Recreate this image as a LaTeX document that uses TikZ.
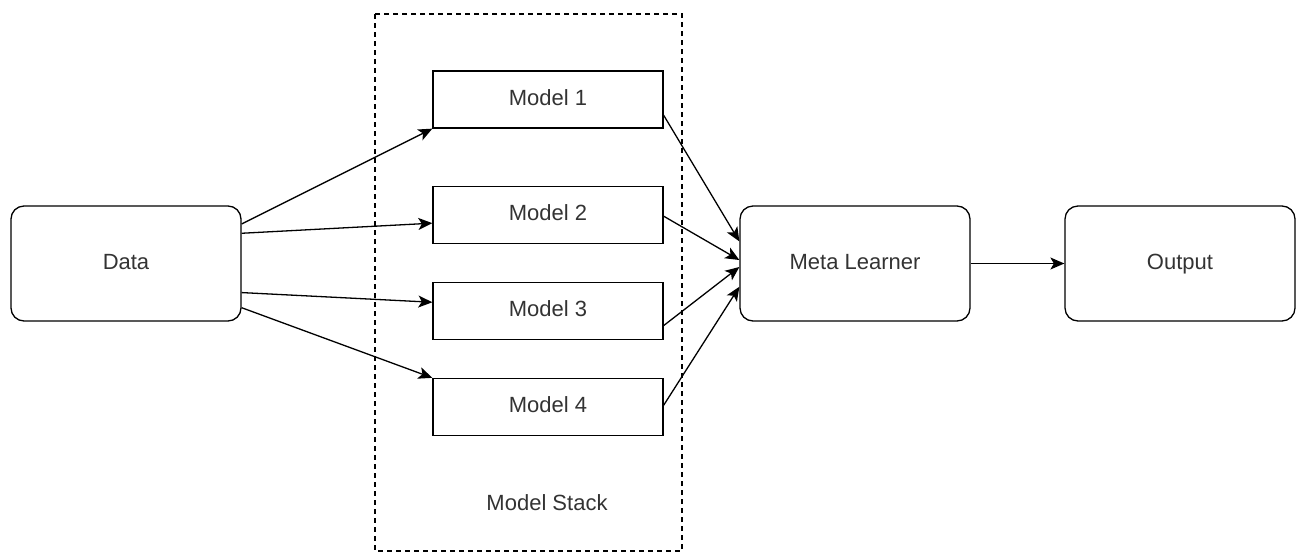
\documentclass[tikz,border=0pt]{standalone}
\usepackage{fontspec}
\setmainfont{Liberation Sans}
\usetikzlibrary{arrows.meta,calc}
\definecolor{txt}{HTML}{333333}
\tikzset{
  rbox/.style={draw=black, line width=1.3pt, rounded corners=13pt, minimum width=230pt, minimum height=115pt, inner sep=0pt, font=\fontsize{22}{26}\selectfont, text=txt, text height=16pt, text depth=4.5pt},
  mbox/.style={draw=black, line width=1.3pt, minimum width=230pt, minimum height=57pt, inner sep=0pt, font=\fontsize{22}{26}\selectfont, text=txt, text height=16pt, text depth=4.5pt},
  conn/.style={line width=1.3pt, -{Stealth[length=14pt,width=12pt,inset=3.5pt]}},
}
\begin{document}
\begin{tikzpicture}[x=1pt,y=-1pt]
\useasboundingbox (0,0) rectangle (1297,552);
\draw[line width=1.2pt, dash pattern=on 5pt off 4pt] (375,14) rectangle (682,551);
\node[font=\fontsize{22}{26}\selectfont, text=txt] (stack) at (547,503) {Model Stack};
\node[rbox] (data) at (126,263.5) {Data};
\node[mbox] (m1) at (548,99.5) {Model 1};
\node[mbox] (m2) at (548,215) {Model 2};
\node[mbox] (m3) at (548,311) {Model 3};
\node[mbox] (m4) at (548,407) {Model 4};
\node[rbox] (meta) at (855,263.5) {Meta Learner};
\node[rbox] (out) at (1180,263.5) {Output};
% data outlets
\coordinate (d1) at ($(data.north east)!0.16!(data.south east)$);
\coordinate (d2) at ($(data.north east)!0.24!(data.south east)$);
\coordinate (d3) at ($(data.north east)!0.75!(data.south east)$);
\coordinate (d4) at ($(data.north east)!0.88!(data.south east)$);
% model inlets
\coordinate (i2) at ($(m2.north west)!0.64!(m2.south west)$);
\coordinate (i3) at ($(m3.north west)!0.35!(m3.south west)$);
% model outlets
\coordinate (o1) at ($(m1.north east)!0.77!(m1.south east)$);
\coordinate (o2) at ($(m2.north east)!0.52!(m2.south east)$);
\coordinate (o3) at ($(m3.north east)!0.75!(m3.south east)$);
\coordinate (o4) at ($(m4.north east)!0.47!(m4.south east)$);
% meta inlets
\coordinate (e1) at ($(meta.north west)!0.31!(meta.south west)$);
\coordinate (e2) at ($(meta.north west)!0.47!(meta.south west)$);
\coordinate (e3) at ($(meta.north west)!0.53!(meta.south west)$);
\coordinate (e4) at ($(meta.north west)!0.70!(meta.south west)$);
\draw[conn] (d1) -- (m1.south west);
\draw[conn] (d2) -- (i2);
\draw[conn] (d3) -- (i3);
\draw[conn] (d4) -- (m4.north west);
\draw[conn] (o1) -- (e1);
\draw[conn] (o2) -- (e2);
\draw[conn] (o3) -- (e3);
\draw[conn] (o4) -- (e4);
\draw[conn] (meta) -- (out);
\end{tikzpicture}
\end{document}
